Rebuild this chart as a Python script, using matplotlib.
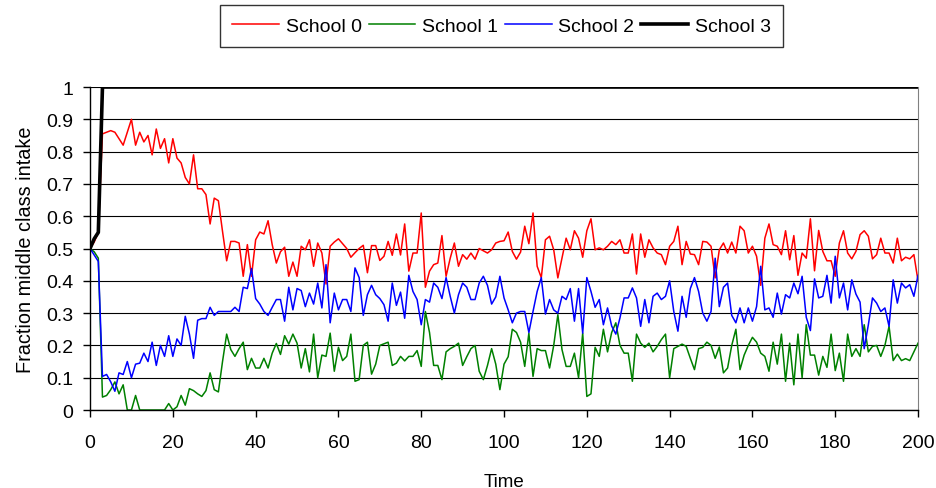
"""
Fraction of middle class intake per school over time.
"""

import numpy as np
import matplotlib.pyplot as plt

plt.rcParams['font.family'] = ['Liberation Sans', 'DejaVu Sans']

time = np.arange(201)

school0 = [
    0.50, 0.52, 0.55, 0.855, 0.86, 0.865, 0.86, 0.84, 0.82, 0.86,
    0.90, 0.82, 0.86, 0.83, 0.85, 0.79, 0.87, 0.81, 0.84, 0.765,
    0.84, 0.78, 0.765, 0.72, 0.70, 0.79, 0.685, 0.685, 0.667, 0.576,
    0.656, 0.648, 0.553, 0.462, 0.522, 0.522, 0.517, 0.414, 0.512, 0.414,
    0.527, 0.551, 0.545, 0.586, 0.512, 0.455, 0.49, 0.504, 0.414, 0.458,
    0.414, 0.507, 0.496, 0.527, 0.445, 0.517, 0.486, 0.39, 0.507, 0.52,
    0.53, 0.515, 0.50, 0.473, 0.487, 0.50, 0.51, 0.425, 0.509, 0.509,
    0.463, 0.476, 0.522, 0.479, 0.545, 0.48, 0.576, 0.43, 0.486, 0.486,
    0.61, 0.38, 0.43, 0.45, 0.455, 0.54, 0.414, 0.47, 0.517, 0.445,
    0.481, 0.467, 0.486, 0.467, 0.50, 0.493, 0.486, 0.496, 0.517, 0.522,
    0.524, 0.551, 0.491, 0.467, 0.489, 0.569, 0.515, 0.61, 0.445, 0.41,
    0.527, 0.538, 0.496, 0.409, 0.47, 0.532, 0.496, 0.555, 0.532, 0.473,
    0.555, 0.592, 0.496, 0.502, 0.496, 0.507, 0.522, 0.512, 0.527, 0.486,
    0.486, 0.545, 0.421, 0.545, 0.473, 0.527, 0.502, 0.486, 0.481, 0.45,
    0.507, 0.522, 0.569, 0.45, 0.522, 0.483, 0.481, 0.45, 0.522, 0.52,
    0.507, 0.409, 0.496, 0.517, 0.486, 0.52, 0.486, 0.569, 0.555, 0.486,
    0.507, 0.476, 0.386, 0.532, 0.576, 0.512, 0.507, 0.481, 0.555, 0.465,
    0.54, 0.417, 0.486, 0.47, 0.592, 0.431, 0.556, 0.491, 0.462, 0.462,
    0.414, 0.517, 0.555, 0.486, 0.468, 0.491, 0.543, 0.555, 0.538, 0.468,
    0.481, 0.532, 0.486, 0.486, 0.455, 0.532, 0.462, 0.473, 0.468, 0.481,
    0.40,
]

school1 = [
    0.50, 0.49, 0.47, 0.04, 0.045, 0.063, 0.087, 0.05, 0.078, 0.0,
    0.0, 0.045, 0.0, 0.0, 0.0, 0.0, 0.0, 0.0, 0.0, 0.02,
    0.0, 0.01, 0.045, 0.015, 0.066, 0.06, 0.05, 0.042, 0.06, 0.115,
    0.063, 0.056, 0.15, 0.235, 0.187, 0.166, 0.19, 0.21, 0.125, 0.16,
    0.13, 0.13, 0.16, 0.13, 0.176, 0.206, 0.172, 0.23, 0.204, 0.235,
    0.207, 0.13, 0.19, 0.118, 0.235, 0.10, 0.17, 0.166, 0.238, 0.12,
    0.194, 0.153, 0.166, 0.235, 0.089, 0.094, 0.20, 0.21, 0.111, 0.142,
    0.20, 0.205, 0.21, 0.138, 0.145, 0.166, 0.152, 0.166, 0.166, 0.184,
    0.135, 0.305, 0.24, 0.138, 0.138, 0.094, 0.18, 0.19, 0.197, 0.207,
    0.138, 0.165, 0.19, 0.20, 0.12, 0.094, 0.138, 0.19, 0.142, 0.063,
    0.142, 0.165, 0.25, 0.24, 0.21, 0.135, 0.238, 0.104, 0.19, 0.184,
    0.184, 0.13, 0.20, 0.295, 0.187, 0.135, 0.135, 0.176, 0.10, 0.238,
    0.042, 0.05, 0.194, 0.166, 0.25, 0.18, 0.24, 0.27, 0.20, 0.176,
    0.176, 0.089, 0.235, 0.207, 0.194, 0.207, 0.18, 0.197, 0.218, 0.235,
    0.10, 0.19, 0.197, 0.204, 0.197, 0.16, 0.125, 0.19, 0.194, 0.21,
    0.20, 0.16, 0.195, 0.115, 0.13, 0.20, 0.25, 0.125, 0.17, 0.20,
    0.225, 0.21, 0.176, 0.166, 0.12, 0.21, 0.142, 0.235, 0.089, 0.207,
    0.078, 0.235, 0.10, 0.264, 0.17, 0.17, 0.108, 0.166, 0.132, 0.235,
    0.122, 0.176, 0.089, 0.235, 0.166, 0.19, 0.166, 0.264, 0.18, 0.197,
    0.20, 0.166, 0.20, 0.259, 0.153, 0.173, 0.153, 0.159, 0.153, 0.18,
    0.207,
]

school2 = [
    0.50, 0.48, 0.46, 0.104, 0.11, 0.087, 0.058, 0.115, 0.11, 0.15,
    0.10, 0.142, 0.145, 0.176, 0.15, 0.21, 0.138, 0.20, 0.166, 0.23,
    0.166, 0.22, 0.20, 0.29, 0.235, 0.16, 0.278, 0.283, 0.283, 0.318,
    0.293, 0.305, 0.305, 0.305, 0.305, 0.318, 0.305, 0.38, 0.376, 0.438,
    0.345, 0.328, 0.305, 0.293, 0.318, 0.342, 0.342, 0.275, 0.38, 0.31,
    0.376, 0.37, 0.32, 0.362, 0.328, 0.393, 0.316, 0.45, 0.27, 0.362,
    0.31, 0.342, 0.342, 0.305, 0.44, 0.41, 0.293, 0.357, 0.386, 0.357,
    0.345, 0.326, 0.275, 0.393, 0.324, 0.365, 0.284, 0.417, 0.367, 0.342,
    0.264, 0.342, 0.334, 0.393, 0.38, 0.345, 0.41, 0.352, 0.30, 0.357,
    0.393, 0.38, 0.342, 0.342, 0.393, 0.414, 0.386, 0.328, 0.35, 0.414,
    0.347, 0.31, 0.27, 0.30, 0.305, 0.305, 0.24, 0.305, 0.367, 0.41,
    0.297, 0.342, 0.31, 0.30, 0.352, 0.342, 0.376, 0.275, 0.376, 0.238,
    0.41, 0.367, 0.318, 0.342, 0.264, 0.316, 0.26, 0.235, 0.285, 0.347,
    0.347, 0.378, 0.347, 0.259, 0.342, 0.27, 0.352, 0.362, 0.342, 0.352,
    0.40, 0.305, 0.244, 0.352, 0.287, 0.376, 0.41, 0.367, 0.30, 0.275,
    0.305, 0.47, 0.32, 0.38, 0.393, 0.293, 0.27, 0.316, 0.27, 0.316,
    0.275, 0.32, 0.445, 0.31, 0.316, 0.287, 0.362, 0.297, 0.357, 0.347,
    0.393, 0.36, 0.414, 0.287, 0.246, 0.406, 0.347, 0.352, 0.417, 0.331,
    0.476, 0.347, 0.393, 0.31, 0.403, 0.359, 0.334, 0.19, 0.264, 0.347,
    0.331, 0.305, 0.316, 0.259, 0.403, 0.331, 0.393, 0.378, 0.388, 0.352,
    0.417,
]

# school 3 saturates at 1 after the first few steps
school3 = [0.50, 0.53, 0.55] + [1.0] * 198

series = [
    ('School 0', school0, '#FF0000', 1.1),
    ('School 1', school1, '#008000', 1.1),
    ('School 2', school2, '#0000FF', 1.1),
    ('School 3', school3, '#000000', 2.6),
]

fig = plt.figure(figsize=(9.36, 4.89), dpi=100)
ax = fig.add_axes([0.0962, 0.1595, 0.8846, 0.6605])

for label, values, color, lw in series:
    ax.plot(time, values, color=color, linewidth=lw, label=label)

ax.set_xlim(0, 200)
ax.set_ylim(0, 1)
ax.set_xticks(np.arange(0, 201, 20))
ax.set_yticks(np.arange(0, 1.01, 0.1))
ax.set_yticklabels(['0', '0.1', '0.2', '0.3', '0.4', '0.5', '0.6', '0.7', '0.8', '0.9', '1'])
ax.tick_params(axis='both', direction='out', length=5, width=1, labelsize=14)
ax.tick_params(axis='x', pad=12)
ax.tick_params(axis='y', pad=7)
ax.grid(True, axis='y', color='black', linewidth=0.8)
ax.set_axisbelow(True)

ax.spines['right'].set_color('#808080')
ax.spines['top'].set_visible(False)
ax.spines['left'].set_linewidth(1)
ax.spines['bottom'].set_linewidth(1)

ax.set_xlabel('Time', fontsize=13.5, labelpad=16)
ax.set_ylabel('Fraction middle class intake', fontsize=14.3, labelpad=8)

leg = fig.legend(loc='center', bbox_to_anchor=(501.5 / 936, 1 - 27 / 489), ncol=4,
                 fontsize=14, frameon=True, fancybox=False, handlelength=2.4,
                 handletextpad=0.35, columnspacing=0.35, borderpad=0.65)
leg.get_frame().set_edgecolor('black')
leg.get_frame().set_linewidth(1)

fig.savefig('out.png', dpi=100)
